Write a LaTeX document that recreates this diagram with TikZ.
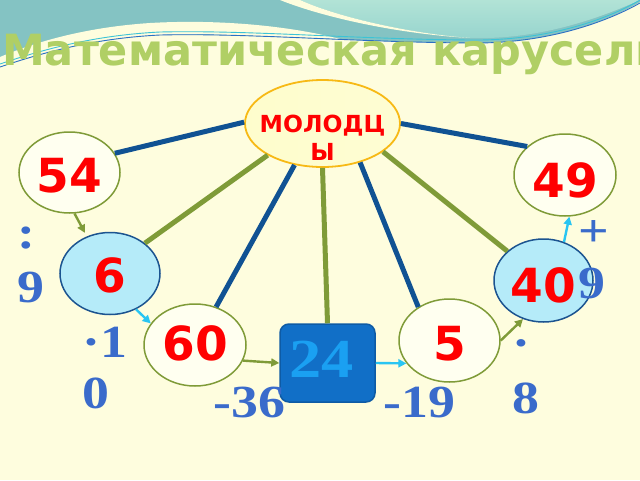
\documentclass[tikz,border=0pt]{standalone}
\usepackage{fontspec}
\usepackage{graphicx}
\usetikzlibrary{shapes.geometric,arrows.meta}
\newfontfamily\dsans{DejaVu Sans}
\newfontfamily\lserif{Liberation Serif}
\definecolor{bgc}{RGB}{254,253,222}
\definecolor{tealc}{RGB}{132,195,195}
\definecolor{mintt}{RGB}{178,227,214}
\definecolor{mintb}{RGB}{150,212,206}
\definecolor{wline}{RGB}{44,111,196}
\definecolor{cline}{RGB}{60,195,214}
\definecolor{titlec}{RGB}{176,207,101}
\definecolor{olivec}{RGB}{127,155,56}
\definecolor{spokeb}{RGB}{16,82,147}
\definecolor{cyanA}{RGB}{41,197,242}
\definecolor{redc}{RGB}{255,0,0}
\definecolor{labelb}{RGB}{58,107,203}
\definecolor{creamc}{RGB}{255,255,240}
\definecolor{cyanf}{RGB}{181,235,249}
\definecolor{bluebd}{RGB}{28,84,144}
\definecolor{goldc}{RGB}{247,185,21}
\definecolor{boxf}{RGB}{17,111,199}
\definecolor{boxd}{RGB}{14,91,165}
\definecolor{boxt}{RGB}{26,160,242}
\newcommand\ctext[2]{\makebox[0pt]{\raisebox{#1}[0pt][0pt]{#2}}}
\newcommand\twol[3]{\scalebox{1.17}[1]{\vtop{\baselineskip=#1\hbox{#2}\hbox{#3}}}}
\newcommand\onel[1]{\scalebox{1.17}[1]{#1}}
\begin{document}
\begin{tikzpicture}[x=1pt,y=-1pt,
  cel/.style={ellipse,draw=olivec,line width=1.5pt,fill=creamc,minimum width=101pt,minimum height=81pt,inner sep=0pt,font=\dsans\bfseries\fontsize{47}{47}\selectfont,text=redc},
  bel/.style={cel,draw=bluebd,fill=cyanf},
  spb/.style={line width=5pt,draw=spokeb},
  spg/.style={line width=5pt,draw=olivec},
  arg/.style={line width=2.4pt,draw=olivec,-{Triangle[length=8pt,width=8pt]}},
  arc/.style={line width=2.4pt,draw=cyanA,-{Triangle[length=8pt,width=8pt]}},
  lbl/.style={font=\lserif\bfseries\fontsize{46}{52}\selectfont,text=labelb,inner sep=0pt,anchor=base west}
]
\useasboundingbox (0,0) rectangle (640,480);
% background
\fill[bgc] (0,0) rectangle (640,480);
\fill[tealc] (0,0) -- (640,0) -- (640,2) .. controls (610,20) and (550,44) .. (470,43)
  .. controls (350,42) and (250,33) .. (160,35) .. controls (100,38) and (50,50) .. (0,67) -- cycle;
\fill[bgc] (0,57) .. controls (40,40) and (90,27) .. (150,23) .. controls (220,19) and (290,26) .. (340,39)
  .. controls (250,36) and (210,33) .. (160,35) .. controls (100,38) and (50,50) .. (0,67) -- cycle;
\shade[top color=mintt,bottom color=mintb] (300,0) .. controls (335,16) and (405,33) .. (470,38)
  .. controls (540,40) and (600,18) .. (640,0) -- cycle;
\fill[bgc] (280,0) .. controls (325,18) and (400,34) .. (470,38) .. controls (405,33) and (335,16) .. (300,0) -- cycle;
\draw[cline,line width=0.9pt] (0,64) .. controls (50,47) and (100,35) .. (160,32) .. controls (250,30) and (350,39) .. (470,40) .. controls (550,41) and (610,18) .. (640,0);
\draw[wline,line width=0.9pt] (0,67) .. controls (50,50) and (100,38) .. (160,35) .. controls (250,33) and (350,42) .. (470,43) .. controls (550,44) and (610,20) .. (640,3);
% title
\node[anchor=base west,inner sep=0pt,font=\dsans\bfseries\fontsize{43}{43}\selectfont,text=titlec] (title) at (2,65) {Математическая карусель};
% nodes
\node[ellipse,draw=goldc,line width=1.8pt,left color=yellow!8!bgc,middle color={rgb,255:red,255;green,243;blue,130},right color=yellow!5!bgc,minimum width=155pt,minimum height=87pt,inner sep=0pt,font=\dsans\bfseries\fontsize{23.5}{23.5}\selectfont,text=redc] (mol) at (322.5,123.5) {\ctext{-8.5pt}{МОЛОДЦ}\ctext{-36.5pt}{Ы}};
\node[cel] (n54) at (69.5,172.5) {\ctext{-19.5pt}{54}};
\node[cel,minimum width=102pt,minimum height=82pt] (n49) at (565,175) {\ctext{-22pt}{49}};
\node[bel,minimum width=100pt,minimum height=82pt] (n6) at (110,273.5) {\ctext{-18.5pt}{6}};
\node[cel,minimum width=102pt,minimum height=82pt] (n60) at (195,345) {\ctext{-15pt}{60}};
\node[cel,minimum width=101pt,minimum height=83pt] (n5) at (449.5,340.5) {\ctext{-19.5pt}{5}};
\node[bel,minimum width=99pt,minimum height=83pt] (n40) at (543.5,280.5) {\ctext{-21.5pt}{40}};
\node[rectangle,rounded corners=9pt,draw=boxd,line width=1.5pt,fill=boxf,minimum width=95pt,minimum height=78pt,inner sep=0pt,font=\lserif\bfseries\fontsize{55}{55}\selectfont,text=boxt] (n24) at (327.5,363) {\ctext{-14pt}{\kern-12pt\scalebox{1.17}[1]{24}}};
% spokes
\draw[spb] (mol.179) -- (n54.23);
\draw[spb] (mol.0) -- (n49.143);
\draw[spg] (mol.210) -- (n6.41);
\draw[spb] (mol.236) -- (n60.61);
\draw[spg] (mol.south) -- (n24.north);
\draw[spb] (mol.314) -- (n5.133);
\draw[spg] (mol.335) -- (n40.141);
% arrows
\draw[arg,shorten >=4pt] (n54.277) -- (n6.122);
\draw[arc] (n6.306) -- (n60.154);
\draw[arg] (n60.342) -- (n24.west);
\draw[arc] (n24.east) -- (n5.208);
\draw[arg] (n5.east) -- (n40.242);
\draw[arc] (n40.62) -- (n49.276);
% labels
\node[lbl] (l1) at (17,248) {\twol{54pt}{:}{9}};
\node[lbl] (l2) at (82,357) {\twol{51pt}{·1}{0}};
\node[lbl] (l3) at (213,417) {\onel{-36}};
\node[lbl] (l4) at (383,417) {\onel{-19}};
\node[lbl] (l5) at (512,358) {\twol{55pt}{·}{8}};
\node[lbl] (l6) at (578,246) {\twol{52pt}{+}{9}};
\end{tikzpicture}
\end{document}
